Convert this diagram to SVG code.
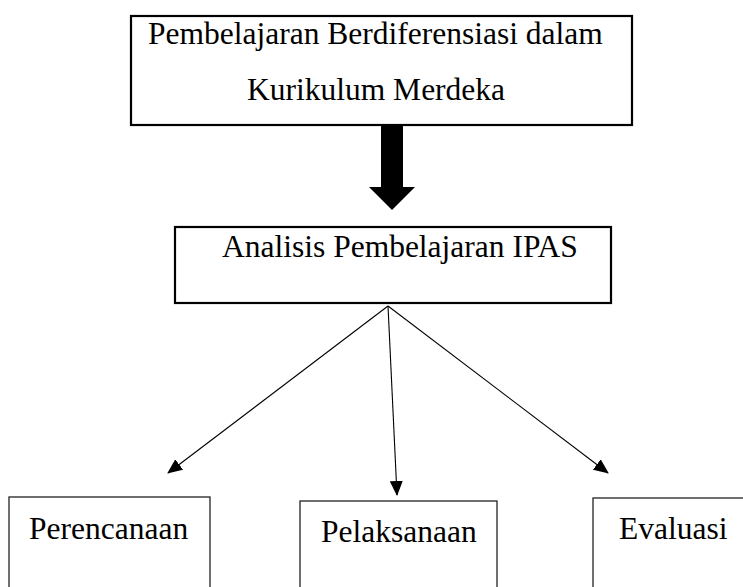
<svg xmlns="http://www.w3.org/2000/svg" width="743" height="587" viewBox="0 0 743 587">
  <style>
    .t { font-family: "Liberation Serif", "Times New Roman", serif; font-size: 31.5px; fill: #000; }
    .main { fill: #fff; stroke: #000; stroke-width: 2.2; }
    .leaf { fill: #fff; stroke: #222; stroke-width: 1.3; }
    .conn { stroke: #000; stroke-width: 1.1; fill: none; marker-end: url(#ah); }
  </style>
  <defs>
    <marker id="ah" markerUnits="userSpaceOnUse" markerWidth="15" markerHeight="13" refX="14" refY="6.5" orient="auto">
      <path d="M0,0 L15,6.5 L0,13 Z" fill="#000"/>
    </marker>
  </defs>
  <rect width="743" height="587" fill="#fff"/>
  <g id="node-top">
    <rect class="main" x="131" y="16" width="501" height="109"/>
    <text class="t" x="148" y="44">Pembelajaran Berdiferensiasi dalam</text>
    <text class="t" x="247" y="100">Kurikulum Merdeka</text>
  </g>
  <g id="node-analisis">
    <rect class="main" x="175" y="227" width="436" height="76"/>
    <text class="t" x="222" y="257">Analisis Pembelajaran IPAS</text>
  </g>
  <g id="node-perencanaan">
    <rect class="leaf" x="9" y="497" width="201" height="100"/>
    <text class="t" x="29" y="539">Perencanaan</text>
  </g>
  <g id="node-pelaksanaan">
    <rect class="leaf" x="300" y="501" width="197" height="100"/>
    <text class="t" x="321" y="542">Pelaksanaan</text>
  </g>
  <g id="node-evaluasi">
    <rect class="leaf" x="593" y="498" width="160" height="100"/>
    <text class="t" x="619" y="539">Evaluasi</text>
  </g>
  <g id="connectors">
    <polygon points="381,125 403,125 403,187 415,187 392,210 369,187 381,187" fill="#000"/>
    <line class="conn" x1="388" y1="306" x2="168" y2="473"/>
    <line class="conn" x1="388" y1="306" x2="397" y2="495"/>
    <line class="conn" x1="388" y1="306" x2="608" y2="473"/>
  </g>
</svg>
